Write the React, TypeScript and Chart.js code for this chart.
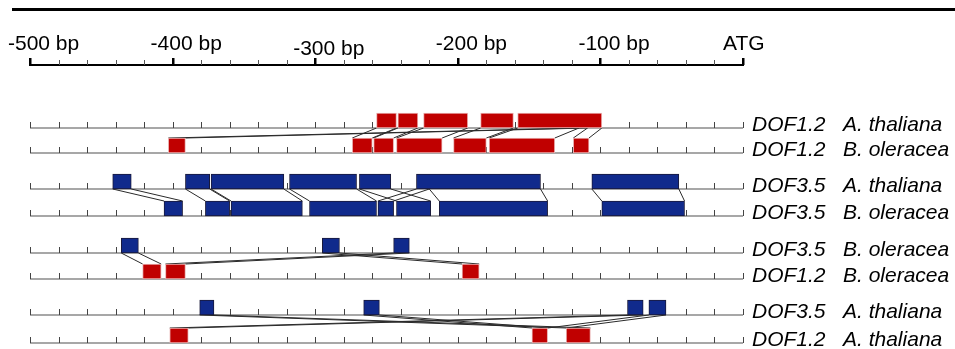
import React, { useEffect, useRef } from "react";
import { Chart, registerables } from "chart.js";
Chart.register(...registerables);

// Ruler (bp upstream of ATG)
const rulerTicks = [-500, -400, -300, -200, -100, 0];
const rulerLabels = ["-500 bp", "-400 bp", "-300 bp", "-200 bp", "-100 bp", "ATG"];

// Rows
const rowGene = ["DOF1.2", "DOF1.2", "DOF3.5", "DOF3.5", "DOF3.5", "DOF1.2", "DOF3.5", "DOF1.2"];
const rowSpecies = ["A. thaliana", "B. oleracea", "A. thaliana", "B. oleracea", "B. oleracea", "B. oleracea", "A. thaliana", "A. thaliana"];
const rowKind = ["red", "red", "blue", "blue", "blue", "red", "blue", "red"];

// Conserved motif boxes [start, end] in bp, per row
const row1Boxes = [[-257, -243], [-242, -228], [-224, -193], [-184, -161], [-158, -99]];
const row2Boxes = [[-403, -391], [-274, -260], [-259, -245], [-243, -211], [-203, -180], [-178, -132], [-119, -108]];
const row3Boxes = [[-442, -429], [-391, -374], [-373, -322], [-318, -271], [-269, -247], [-229, -142], [-106, -45]];
const row4Boxes = [[-406, -393], [-377, -360], [-359, -309], [-304, -257], [-256, -245], [-243, -219], [-213, -137], [-99, -41]];
const row5Boxes = [[-436, -424], [-295, -283], [-245, -234]];
const row6Boxes = [[-421, -408], [-405, -391], [-197, -185]];
const row7Boxes = [[-381, -371], [-266, -255], [-81, -70], [-66, -54]];
const row8Boxes = [[-402, -389], [-148, -137], [-124, -107]];

// Connections between a row and the row below: [topStart, topEnd, bottomStart, bottomEnd]
const links12 = [[-257, -243, -274, -260], [-242, -228, -259, -245], [-224, -193, -243, -211], [-184, -161, -203, -180], [-158, -115, -178, -132], [-115, -109, -403, -391], [-109, -99, -119, -108]];
const links34 = [[-442, -429, -406, -393], [-391, -374, -377, -360], [-373, -322, -359, -309], [-318, -271, -304, -257], [-269, -247, -243, -219], [-229, -220, -256, -245], [-220, -142, -213, -137], [-106, -45, -99, -41]];
const links56 = [[-436, -424, -421, -408], [-245, -234, -405, -391], [-295, -283, -197, -185]];
const links78 = [[-381, -371, -124, -107], [-266, -255, -148, -137], [-81, -70, -402, -389], [-66, -54, -137, -124]];

// Layout (pixels)
const ROW_Y = [128, 153, 189, 216, 253, 279, 315, 343];
const RULER_Y = 65;
const BOX_H = 15;
const RED = "#c00000";
const BLUE = "#102a8c";

const allBoxes = [row1Boxes, row2Boxes, row3Boxes, row4Boxes, row5Boxes, row6Boxes, row7Boxes, row8Boxes];
const allLinks: [number, number[][]][] = [[0, links12], [2, links34], [4, links56], [6, links78]];

const diagramPlugin = {
  id: "diagram",
  beforeDatasetsDraw(chart: any) {
    const ctx = chart.ctx;
    const xs = chart.scales.x;
    const ys = chart.scales.y;
    ctx.save();
    // top rule
    ctx.fillStyle = "#000";
    ctx.fillRect(12, 8, 943, 3);
    // ruler
    const ry = ys.getPixelForValue(RULER_Y);
    const x0 = xs.getPixelForValue(-500);
    const x1 = xs.getPixelForValue(0);
    ctx.strokeStyle = "#000";
    ctx.lineWidth = 2;
    ctx.beginPath();
    ctx.moveTo(x0 - 1, ry);
    ctx.lineTo(x1 + 1, ry);
    ctx.stroke();
    for (let v = -500; v <= 0; v += 20) {
      const px = Math.round(xs.getPixelForValue(v));
      if (v % 100 === 0) {
        ctx.fillStyle = "#000";
        ctx.fillRect(px - 1, ry - 7, 2.5, 7);
      } else {
        ctx.fillStyle = "#555";
        ctx.fillRect(px, ry - 5, 1, 5);
      }
    }
    // row axes
    ROW_Y.forEach((yy) => {
      const py = ys.getPixelForValue(yy);
      ctx.strokeStyle = "#8a8a8a";
      ctx.lineWidth = 1.6;
      ctx.beginPath();
      ctx.moveTo(x0, py);
      ctx.lineTo(x1, py);
      ctx.stroke();
      ctx.fillStyle = "#444";
      for (let v = -500; v <= 0; v += 20) {
        const px = Math.round(xs.getPixelForValue(v));
        ctx.fillRect(px, py - 6, 1, 6);
      }
    });
    ctx.restore();
  },
  afterDatasetsDraw(chart: any) {
    const ctx = chart.ctx;
    const xs = chart.scales.x;
    const ys = chart.scales.y;
    ctx.save();
    ctx.fillStyle = "#000";
    ctx.textAlign = "left";
    ctx.textBaseline = "alphabetic";
    ctx.font = '21px "Liberation Sans", Arial, sans-serif';
    rulerTicks.forEach((v, i) => {
      const px = xs.getPixelForValue(v);
      const dy = v === -300 ? 55 : 50;
      ctx.fillText(rulerLabels[i], px - (v === 0 ? 20 : 22), ys.getPixelForValue(dy));
    });
    ctx.font = 'italic 21px "Liberation Sans", Arial, sans-serif';
    ROW_Y.forEach((yy, i) => {
      const py = ys.getPixelForValue(yy + 3);
      ctx.fillText(rowGene[i], 752, py);
      ctx.fillText(rowSpecies[i], 843, py);
    });
    ctx.restore();
  },
};

export default function App() {
  const ref = useRef<HTMLCanvasElement | null>(null);
  useEffect(() => {
    if (!ref.current) return;
    const redData: any[] = [];
    const blueData: any[] = [];
    allBoxes.forEach((boxes, i) => {
      boxes.forEach(([s, e]) => {
        const d = { x: [s, e], y: ROW_Y[i] - BOX_H / 2 };
        (rowKind[i] === "red" ? redData : blueData).push(d);
      });
    });
    const lineSets: any[] = [];
    allLinks.forEach(([top, links]) => {
      links.forEach(([a1, a2, b1, b2]) => {
        [[a1, b1], [a2, b2]].forEach(([a, b]) => {
          lineSets.push({
            type: "line",
            data: [
              { x: a, y: ROW_Y[top] },
              { x: b, y: ROW_Y[top + 1] - BOX_H },
            ],
            borderColor: "#2a2a2a",
            borderWidth: 1,
            pointRadius: 0,
            fill: false,
            order: 2,
          });
        });
      });
    });
    const chart = new Chart(ref.current, {
      type: "bar",
      data: {
        datasets: [
          {
            type: "bar",
            indexAxis: "y",
            data: redData,
            backgroundColor: RED,
            borderColor: "#e9b0b0",
            borderWidth: 1,
            borderSkipped: false,
            barThickness: BOX_H,
            grouped: false,
            order: 0,
          } as any,
          {
            type: "bar",
            indexAxis: "y",
            data: blueData,
            backgroundColor: BLUE,
            borderColor: "#1a1a3a",
            borderWidth: 1,
            borderSkipped: false,
            barThickness: BOX_H,
            grouped: false,
            order: 0,
          } as any,
          ...lineSets,
        ],
      },
      options: {
        responsive: false,
        animation: false,
        devicePixelRatio: 1,
        layout: { padding: { left: 30, right: 212, top: 0, bottom: 0 } },
        scales: {
          x: { type: "linear", min: -500, max: 0, display: false, offset: false },
          y: { type: "linear", min: 0, max: 349, reverse: true, display: false, offset: false },
        },
        plugins: { legend: { display: false }, tooltip: { enabled: false } },
        events: [],
      } as any,
      plugins: [diagramPlugin],
    });
    return () => chart.destroy();
  }, []);
  return (
    <div style={{ position: "fixed", left: 0, top: 0, width: 955, height: 349, background: "#fff" }}>
      <canvas ref={ref} width={955} height={349} />
    </div>
  );
}
